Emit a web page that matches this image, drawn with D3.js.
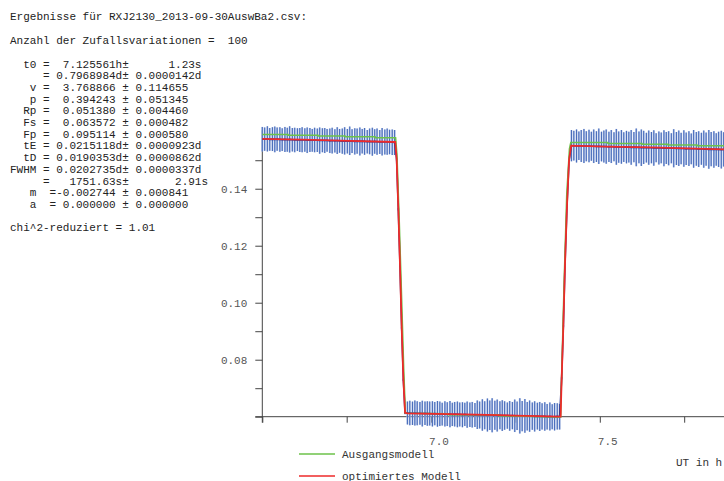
<!DOCTYPE html>
<html>
<head>
<meta charset="utf-8">
<script src="https://cdn.jsdelivr.net/npm/d3@7"></script>
<style>
  html, body { margin: 0; padding: 0; background: #fff; overflow: hidden; }
  text { font-family: "Liberation Mono", "DejaVu Sans Mono", monospace; }
</style>
</head>
<body>
<div id="chart"></div>
<script>
// Observed points (UT in h, relative flux, error), by segment
const timePre = [6.500,6.507,6.515,6.522,6.530,6.537,6.544,6.552,6.559,6.567,
  6.574,6.581,6.589,6.596,6.604,6.611,6.618,6.626,6.633,6.641,
  6.648,6.655,6.663,6.670,6.678,6.685,6.692,6.700,6.707,6.715,
  6.722,6.729,6.737,6.744,6.752,6.759,6.766,6.774,6.781,6.789,
  6.796,6.803,6.811,6.818,6.826,6.833,6.840,6.848,6.855,6.863,
  6.870,6.877,6.885,6.892];
const fluxPre = [0.1574,0.1574,0.1575,0.1573,0.1574,0.1573,0.1574,0.1573,0.1572,0.1573,
  0.1572,0.1573,0.1572,0.1571,0.1572,0.1571,0.1572,0.1571,0.1570,0.1571,
  0.1570,0.1571,0.1570,0.1569,0.1570,0.1569,0.1570,0.1568,0.1569,0.1568,
  0.1569,0.1568,0.1567,0.1568,0.1567,0.1568,0.1567,0.1566,0.1567,0.1566,
  0.1567,0.1566,0.1565,0.1566,0.1565,0.1566,0.1565,0.1564,0.1565,0.1564,
  0.1565,0.1564,0.1563,0.1562];
const errPre = [0.0043,0.0041,0.0044,0.0040,0.0042,0.0045,0.0041,0.0043,0.0040,0.0044,
  0.0042,0.0046,0.0041,0.0043,0.0040,0.0042,0.0044,0.0041,0.0045,0.0042,
  0.0040,0.0043,0.0041,0.0046,0.0042,0.0044,0.0040,0.0043,0.0045,0.0041,
  0.0047,0.0042,0.0044,0.0048,0.0043,0.0050,0.0042,0.0046,0.0044,0.0049,
  0.0043,0.0047,0.0041,0.0045,0.0049,0.0043,0.0046,0.0042,0.0048,0.0044,
  0.0046,0.0043,0.0045,0.0044];

const timeIngress = [6.898,6.903,6.908,6.913,6.918,6.923];
const fluxIngress = [0.1503,0.1328,0.1129,0.0911,0.0729,0.0613];
const errIngress  = [0.0004,0.0004,0.0004,0.0004,0.0004,0.0004];

const timeLow = [6.930,6.937,6.945,6.952,6.959,6.967,6.974,6.982,6.989,6.996,
  7.004,7.011,7.019,7.026,7.033,7.041,7.048,7.056,7.063,7.070,
  7.078,7.085,7.093,7.100,7.107,7.115,7.122,7.130,7.137,7.144,
  7.152,7.159,7.167,7.174,7.181,7.189,7.196,7.204,7.211,7.218,
  7.226,7.233,7.241,7.248,7.255,7.263,7.270,7.278,7.285,7.292,
  7.300,7.307,7.315,7.322,7.329,7.337,7.344,7.352,7.359,7.366,
  7.374,7.381];
const fluxLow = [0.0613,0.0613,0.0612,0.0613,0.0612,0.0612,0.0611,0.0612,0.0611,0.0611,
  0.0610,0.0611,0.0610,0.0610,0.0609,0.0610,0.0609,0.0609,0.0608,0.0609,
  0.0608,0.0608,0.0607,0.0608,0.0607,0.0607,0.0607,0.0606,0.0607,0.0606,
  0.0606,0.0605,0.0606,0.0605,0.0605,0.0605,0.0604,0.0605,0.0604,0.0604,
  0.0604,0.0603,0.0604,0.0603,0.0603,0.0603,0.0602,0.0603,0.0602,0.0602,
  0.0602,0.0601,0.0602,0.0601,0.0601,0.0601,0.0600,0.0601,0.0600,0.0600,
  0.0601,0.0600];
const errLow = [0.0040,0.0043,0.0041,0.0044,0.0042,0.0040,0.0045,0.0041,0.0043,0.0042,
  0.0044,0.0041,0.0045,0.0043,0.0040,0.0044,0.0042,0.0046,0.0041,0.0043,
  0.0045,0.0042,0.0044,0.0041,0.0046,0.0043,0.0045,0.0042,0.0050,0.0047,
  0.0055,0.0049,0.0058,0.0052,0.0060,0.0051,0.0056,0.0049,0.0054,0.0050,
  0.0046,0.0052,0.0048,0.0057,0.0050,0.0062,0.0053,0.0059,0.0050,0.0055,
  0.0048,0.0053,0.0047,0.0051,0.0046,0.0050,0.0045,0.0049,0.0044,0.0048,
  0.0046,0.0045];

const timeEgress = [7.387,7.392,7.397,7.403,7.409];
const fluxEgress = [0.0735,0.0918,0.1138,0.1346,0.1501];
const errEgress  = [0.0004,0.0004,0.0004,0.0004,0.0004];

const timePost = [7.416,7.423,7.431,7.438,7.445,7.453,7.460,7.468,7.475,7.482,
  7.490,7.497,7.505,7.512,7.519,7.527,7.534,7.542,7.549,7.556,
  7.564,7.571,7.579,7.586,7.593,7.601,7.608,7.616,7.623,7.630,
  7.638,7.645,7.653,7.660,7.667,7.675,7.682,7.690,7.697,7.704,
  7.712,7.719,7.727,7.734,7.741,7.749,7.756,7.764,7.771,7.778,
  7.786,7.793,7.801,7.808,7.815,7.823,7.830,7.838,7.845,7.852,
  7.860,7.867];
const fluxPost = [0.1551,0.1551,0.1550,0.1551,0.1550,0.1550,0.1549,0.1550,0.1549,0.1549,
  0.1548,0.1549,0.1548,0.1548,0.1548,0.1547,0.1548,0.1547,0.1547,0.1546,
  0.1547,0.1546,0.1546,0.1546,0.1545,0.1546,0.1545,0.1545,0.1544,0.1545,
  0.1544,0.1544,0.1544,0.1543,0.1544,0.1543,0.1543,0.1542,0.1543,0.1542,
  0.1542,0.1542,0.1541,0.1542,0.1541,0.1541,0.1540,0.1541,0.1540,0.1540,
  0.1540,0.1539,0.1540,0.1539,0.1539,0.1538,0.1539,0.1538,0.1538,0.1538,
  0.1537,0.1538];
const errPost = [0.0055,0.0052,0.0058,0.0050,0.0056,0.0060,0.0053,0.0057,0.0051,0.0059,
  0.0054,0.0062,0.0052,0.0056,0.0060,0.0053,0.0058,0.0051,0.0063,0.0055,
  0.0059,0.0052,0.0057,0.0054,0.0061,0.0053,0.0066,0.0056,0.0064,0.0058,
  0.0052,0.0060,0.0055,0.0062,0.0051,0.0058,0.0054,0.0063,0.0056,0.0060,
  0.0053,0.0067,0.0058,0.0062,0.0055,0.0064,0.0057,0.0061,0.0054,0.0066,
  0.0059,0.0063,0.0056,0.0065,0.0058,0.0068,0.0060,0.0064,0.0057,0.0062,
  0.0066,0.0060];

// Models
const startModelTime = [6.500,6.576,6.576,6.665,6.665,6.745,6.745,6.834,6.834,6.895,
  6.899,6.906,6.913,6.919,6.924,7.050,7.050,7.200,7.200,7.384,
  7.386,7.394,7.402,7.410,7.414,7.524,7.524,7.625,7.625,7.702,
  7.702,7.788,7.788,7.868];
const startModelFlux = [0.1590,0.1590,0.1588,0.1588,0.1585,0.1585,0.1582,0.1582,0.1579,0.1579,
  0.1520,0.1280,0.1010,0.0770,0.0612,0.0610,0.0607,0.0607,0.0603,0.0599,
  0.0700,0.1060,0.1380,0.1540,0.1562,0.1562,0.1559,0.1559,0.1556,0.1556,
  0.1553,0.1553,0.1551,0.1551];

const optModelTime = [6.500,6.620,6.760,6.894,6.898,6.903,6.908,6.913,6.918,6.923,
  6.930,7.100,7.250,7.384,7.387,7.392,7.397,7.403,7.409,7.415,
  7.520,7.650,7.868];
const optModelFlux = [0.1575,0.1572,0.1568,0.1564,0.1505,0.1330,0.1130,0.0912,0.0730,0.0614,
  0.0612,0.0608,0.0604,0.0600,0.0735,0.0918,0.1138,0.1346,0.1501,0.1551,
  0.1548,0.1545,0.1538];

const yTicks = [0.06,0.07,0.08,0.09,0.10,0.11,0.12,0.13,0.14,0.15];
const yLabels = [0.08,0.10,0.12,0.14];
const xTicks = [6.5,6.75,7.0,7.25,7.5,7.75];
const xLabels = [7.0,7.5];

const headerLines = [
  'Ergebnisse für RXJ2130_2013-09-30AuswBa2.csv:',
  'Anzahl der Zufallsvariationen =  100'
];
const statLines = [
  '  t0 =  7.125561h±      1.23s',
  '     = 0.7968984d± 0.0000142d',
  '   v =  3.768866 ± 0.114655',
  '   p =  0.394243 ± 0.051345',
  '  Rp =  0.051380 ± 0.004460',
  '  Fs =  0.063572 ± 0.000482',
  '  Fp =  0.095114 ± 0.000580',
  '  tE = 0.0215118d± 0.0000923d',
  '  tD = 0.0190353d± 0.0000862d',
  'FWHM = 0.0202735d± 0.0000337d',
  '     =   1751.63s±       2.91s',
  '   m  =-0.002744 ± 0.000841',
  '   a  = 0.000000 ± 0.000000'
];
const chiLine = 'chi^2-reduziert = 1.01';
const legendNames = ['Ausgangsmodell', 'optimiertes Modell'];
const legendColors = ['#6cc24a', '#ee2a2a'];

const width = 724, height = 481;
const svg = d3.select('#chart').append('svg')
  .attr('width', width).attr('height', height);

const x = d3.scaleLinear().domain([6.5, 7.868]).range([262.3, 724]);
const y = d3.scaleLinear().domain([0.06, 0.1605]).range([416.7, 130.3]);

// text block
svg.selectAll('text.hdr').data(headerLines).enter().append('text')
  .attr('class', 'hdr')
  .attr('x', 10).attr('y', (d, i) => 20 + i * 24)
  .attr('font-size', '11px').attr('fill', '#222')
  .style('white-space', 'pre').text(d => d);

svg.selectAll('text.stat').data(statLines).enter().append('text')
  .attr('class', 'stat')
  .attr('x', 10).attr('y', (d, i) => 67.5 + i * 11.7)
  .attr('font-size', '11px').attr('fill', '#222')
  .style('white-space', 'pre').text(d => d);

svg.append('text')
  .attr('x', 10).attr('y', 230.5)
  .attr('font-size', '11px').attr('fill', '#222')
  .style('white-space', 'pre').text(chiLine);

// axes
const axisColor = '#444';
const yAxis = svg.append('g').attr('transform', `translate(${x(6.5)},0)`)
  .call(d3.axisLeft(y).tickValues(yTicks).tickSize(7).tickPadding(8)
    .tickFormat(d => yLabels.some(v => Math.abs(v - d) < 1e-9) ? d3.format('.2f')(d) : ''));
yAxis.select('.domain').remove();
yAxis.selectAll('line').attr('stroke', axisColor);
yAxis.selectAll('text').attr('font-size', '11px').attr('fill', '#555')
  .attr('font-family', '"Liberation Mono", monospace');

const xAxis = svg.append('g').attr('transform', `translate(0,${y(0.06)})`)
  .call(d3.axisBottom(x).tickValues(xTicks).tickSize(6).tickFormat(''));
xAxis.select('.domain').remove();
xAxis.selectAll('line').attr('stroke', axisColor);

svg.append('line')
  .attr('x1', x(6.5)).attr('x2', x(6.5))
  .attr('y1', y.range()[1]).attr('y2', y(0.06) + 6)
  .attr('stroke', axisColor);
svg.append('line')
  .attr('x1', x(6.5) - 7).attr('x2', width)
  .attr('y1', y(0.06)).attr('y2', y(0.06))
  .attr('stroke', axisColor);

svg.selectAll('text.xl').data(xLabels).enter().append('text')
  .attr('class', 'xl')
  .attr('x', d => x(d) - 2).attr('y', 445)
  .attr('font-size', '11px').attr('fill', '#555')
  .text(d => d3.format('.1f')(d));

svg.append('text')
  .attr('x', 676).attr('y', 466)
  .attr('font-size', '11px').attr('fill', '#333')
  .style('white-space', 'pre').text('UT in h');

// data
const obsTime = [].concat(timePre, timeIngress, timeLow, timeEgress, timePost);
const obsFlux = [].concat(fluxPre, fluxIngress, fluxLow, fluxEgress, fluxPost);
const obsErr = [].concat(errPre, errIngress, errLow, errEgress, errPost);
const obs = obsTime.map((t, i) => ({ t, f: obsFlux[i], e: obsErr[i] }));

const bars = svg.append('g');
bars.selectAll('line.halo').data(obs).enter().append('line')
  .attr('class', 'halo')
  .attr('x1', d => x(d.t)).attr('x2', d => x(d.t))
  .attr('y1', d => y(d.f + d.e)).attr('y2', d => y(d.f - d.e))
  .attr('stroke', '#b4c5e8').attr('stroke-width', 1.9);
bars.selectAll('line.core').data(obs).enter().append('line')
  .attr('class', 'core')
  .attr('x1', d => x(d.t)).attr('x2', d => x(d.t))
  .attr('y1', d => y(d.f + d.e)).attr('y2', d => y(d.f - d.e))
  .attr('stroke', '#4a6dbb').attr('stroke-width', 1.1);

const line = d3.line().x(d => x(d[0])).y(d => y(d[1]));

svg.append('path')
  .attr('d', line(obs.map(d => [d.t, d.f])))
  .attr('fill', 'none').attr('stroke', '#2b3590').attr('stroke-width', 1.6);

svg.append('path')
  .attr('d', line(startModelTime.map((t, i) => [t, startModelFlux[i]])))
  .attr('fill', 'none').attr('stroke', legendColors[0]).attr('stroke-width', 1.5);

svg.append('path')
  .attr('d', line(optModelTime.map((t, i) => [t, optModelFlux[i]])))
  .attr('fill', 'none').attr('stroke', legendColors[1]).attr('stroke-width', 1.8);

// legend
legendNames.forEach((name, i) => {
  const ly = 454 + i * 22;
  svg.append('line')
    .attr('x1', 299).attr('x2', 335).attr('y1', ly).attr('y2', ly)
    .attr('stroke', legendColors[i]).attr('stroke-width', 1.5);
  svg.append('text')
    .attr('x', 342).attr('y', ly + 3.5)
    .attr('font-size', '11px').attr('fill', '#333')
    .text(name);
});
</script>
</body>
</html>
